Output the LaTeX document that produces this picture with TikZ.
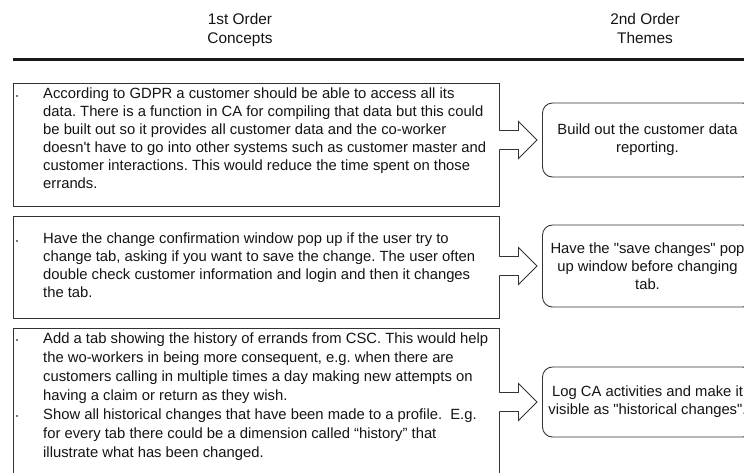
\documentclass[tikz,border=0pt]{standalone}
\usepackage{fontspec}
\setmainfont{Liberation Sans}[Ligatures=TeXOff]
\frenchspacing
\usetikzlibrary{calc}

\tikzset{
  txt/.style={font=\fontsize{14.8}{18}\selectfont, text=black!92},
  frame/.style={draw=black!80, line width=0.9pt, minimum width=486pt, inner sep=0pt},
  para/.style={txt, anchor=north west, inner sep=0pt, align=left,
    execute at begin node=\rule{0pt}{12pt}},
  dotmark/.style={txt, anchor=base, inner sep=0pt},
  head/.style={txt, font=\fontsize{15.4}{18.5}\selectfont, anchor=north, inner sep=0pt,
    align=center, execute at begin node=\rule{0pt}{12pt}},
  theme/.style={txt, draw=black!80, line width=0.9pt, rounded corners=10pt,
    minimum width=210pt, align=center, inner sep=0pt},
  arrowline/.style={draw=black!80, line width=0.9pt, line join=miter},
}

% block arrow from the east side of a concept box to a theme box
\newcommand\themearrow[2]{%
  \path (#1.east |- #2.west) coordinate (s-#1)
        ($(#2.west)+(-5,0)$) coordinate (e-#1);
  \fill[white] ($(s-#1)+(-1.5,-9.5)$) -- ($(s-#1)+(19,-9.5)$) -- ($(s-#1)+(19,-18.5)$)
     -- (e-#1) -- ($(s-#1)+(19,18.5)$) -- ($(s-#1)+(19,9.5)$) -- ($(s-#1)+(-1.5,9.5)$) -- cycle;
  \draw[arrowline] ($(s-#1)+(0,-9.5)$) -- ($(s-#1)+(19,-9.5)$) -- ($(s-#1)+(19,-18.5)$)
     -- (e-#1) -- ($(s-#1)+(19,18.5)$) -- ($(s-#1)+(19,9.5)$) -- ($(s-#1)+(0,9.5)$);
}

\begin{document}
\begin{tikzpicture}[x=1pt,y=-1pt]
\useasboundingbox (0,0) rectangle (744,472);
\clip (0,0) rectangle (744,472);

% column headings
\node[head] (h1) at (240,13.5) {1st Order\\Concepts};
\node[head] (h2) at (645,13.5) {2nd Order\\Themes};
\draw[line width=3pt, black!90] (13,59) -- (744,59);

% first order concept boxes
\node[frame, minimum height=123pt] (c1) at (256,144.5) {};
\node[frame, minimum height=102pt] (c2) at (256,267) {};
\node[frame, minimum height=172pt] (c3) at (256,414) {};

\node[dotmark] (b1) at (17,100) {·};
\node[para] (p1) at (43,88) {According to GDPR a customer should be able to access all its\\
data. There is a function in CA for compiling that data but this could\\
be built out so it provides all customer data and the co-worker\\
doesn't have to go into other systems such as customer master and\\
customer interactions. This would reduce the time spent on those\\
errands.};

\node[dotmark] (b2) at (17,245) {·};
\node[para] (p2) at (43,233) {Have the change confirmation window pop up if the user try to\\
change tab, asking if you want to save the change. The user often\\
double check customer information and login and then it changes\\
the tab.};

\node[dotmark] (b3) at (17,344.8) {·};
\node[dotmark] (b4) at (17,420.8) {·};
\node[para, font=\fontsize{14.8}{19}\selectfont] (p3) at (43,332.8) {Add a tab showing the history of errands from CSC. This would help\\
the wo-workers in being more consequent, e.g. when there are\\
customers calling in multiple times a day making new attempts on\\
having a claim or return as they wish.\\
Show all historical changes that have been made to a profile. \ E.g.\\
for every tab there could be a dimension called “history” that\\
illustrate what has been changed.};

% second order themes
\node[theme, minimum height=74pt] (t1) at (647.5,140) {Build out the customer data\\reporting.};
\node[theme, minimum height=82pt] (t2) at (647.5,266) {Have the "save changes" pop\\up window before changing\\tab.};
\node[theme, minimum height=70pt] (t3) at (647.5,402) {Log CA activities and make it\\visible as "historical changes".};

\themearrow{c1}{t1}
\themearrow{c2}{t2}
\themearrow{c3}{t3}
\end{tikzpicture}
\end{document}
